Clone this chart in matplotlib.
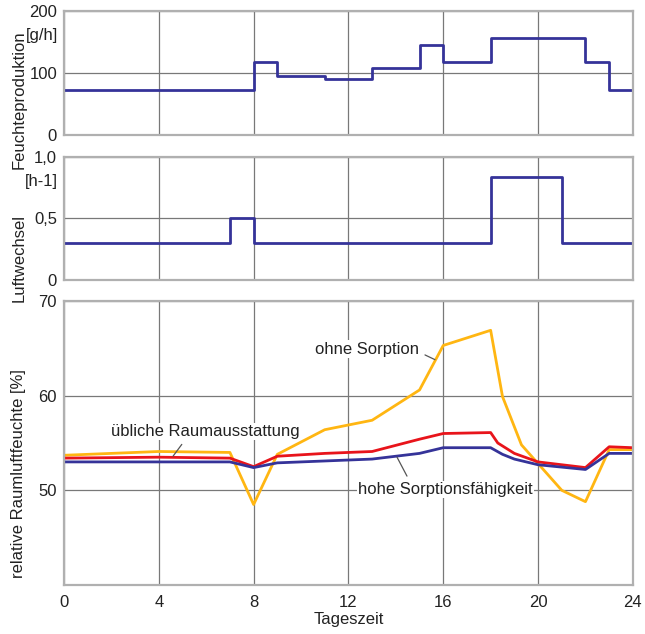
import matplotlib
matplotlib.use('Agg')
import matplotlib.pyplot as plt
from matplotlib.ticker import FuncFormatter

plt.rcParams['font.family'] = ['Liberation Sans', 'DejaVu Sans']

# Feuchteproduktion [g/h], stufenweise (Stunde -> Wert)
hours_feuchte = [0, 8, 9, 11, 13, 15, 16, 18, 22, 23, 24]
feuchte = [72, 118, 95, 90, 108, 146, 118, 156, 118, 72, 72]

# Luftwechsel [h-1]
hours_luft = [0, 7, 8, 18, 21, 24]
luftwechsel = [0.3, 0.5, 0.3, 0.84, 0.3, 0.3]

# relative Raumluftfeuchte [%]
hours_ohne = [0, 4, 7, 8, 9, 11, 13, 15, 16, 18, 18.5, 19.3, 21, 22, 23, 24]
rh_ohne = [53.7, 54.1, 54.0, 48.5, 53.8, 56.4, 57.4, 60.6, 65.3, 66.9, 59.9, 54.8, 50.0, 48.8, 54.3, 54.3]

hours_ueblich = [0, 4, 7, 8, 9, 11, 13, 15, 16, 18, 18.3, 19, 20, 22, 23, 24]
rh_ueblich = [53.4, 53.5, 53.4, 52.5, 53.6, 53.9, 54.1, 55.4, 56.0, 56.1, 55.0, 53.9, 53.0, 52.4, 54.6, 54.5]

hours_hoch = [0, 7, 8, 9, 11, 13, 15, 16, 18, 18.5, 19, 20, 22, 23, 24]
rh_hoch = [53.0, 53.0, 52.4, 52.9, 53.1, 53.3, 53.9, 54.5, 54.5, 53.8, 53.3, 52.7, 52.2, 53.9, 53.9]

x_ticks = [0, 4, 8, 12, 16, 20, 24]

blue = '#353399'
red = '#e8141b'
yellow = '#ffb612'
grid_col = '#787878'
spine_col = '#b0b0b0'
txt = '#222222'

fig = plt.figure(figsize=(6.45, 6.34), dpi=100)
ax1 = fig.add_axes([0.0992, 0.787, 0.882, 0.1956])
ax2 = fig.add_axes([0.0992, 0.5584, 0.882, 0.194])
ax3 = fig.add_axes([0.0992, 0.0773, 0.882, 0.448])

for ax in (ax1, ax2, ax3):
    ax.set_xlim(0, 24)
    ax.set_xticks(x_ticks)
    ax.grid(True, color=grid_col, linewidth=0.9)
    ax.set_axisbelow(True)
    ax.tick_params(length=0, labelsize=12, colors=txt, pad=5)
    for s in ax.spines.values():
        s.set_color(spine_col)
        s.set_linewidth(1.6)

ax1.step(hours_feuchte, feuchte, where='post', color=blue, lw=2)
ax1.set_ylim(0, 200)
ax1.set_yticks([0, 100, 200])
ax1.tick_params(labelbottom=False)
ax1.text(-0.01, 0.8, '[g/h]', transform=ax1.transAxes, ha='right', va='center',
         fontsize=12, color=txt)

ax2.step(hours_luft, luftwechsel, where='post', color=blue, lw=2)
ax2.set_ylim(0, 1.0)
ax2.set_yticks([0, 0.5, 1.0])
ax2.yaxis.set_major_formatter(FuncFormatter(lambda v, p: '0' if v == 0 else ('%.1f' % v).replace('.', ',')))
ax2.tick_params(labelbottom=False)
ax2.text(-0.01, 0.8, '[h-1]', transform=ax2.transAxes, ha='right', va='center',
         fontsize=12, color=txt)

ax3.plot(hours_ohne, rh_ohne, color=yellow, lw=2)
ax3.plot(hours_ueblich, rh_ueblich, color=red, lw=2)
ax3.plot(hours_hoch, rh_hoch, color=blue, lw=2)
ax3.set_ylim(40, 70)
ax3.set_yticks([50, 60, 70])
ax3.tick_params(axis='x', pad=7)
ax3.set_xlabel('Tageszeit', fontsize=12, color=txt, labelpad=2)

box = dict(facecolor='white', edgecolor='none', pad=1)
lead = dict(arrowstyle='-', color='#555555', lw=0.9, shrinkA=0, shrinkB=0)
ax3.text(12.8, 64.9, 'ohne Sorption', ha='center', va='center', fontsize=12, color=txt, bbox=box)
ax3.annotate('', xy=(15.65, 63.8), xytext=(15.23, 64.3), arrowprops=lead)
ax3.text(5.97, 56.2, 'übliche Raumausstattung', ha='center', va='center', fontsize=12, color=txt, bbox=box)
ax3.annotate('', xy=(4.6, 53.6), xytext=(4.97, 54.85), arrowprops=lead)
ax3.text(16.1, 50.1, 'hohe Sorptionsfähigkeit', ha='center', va='center', fontsize=12, color=txt, bbox=box)
ax3.annotate('', xy=(14.05, 53.5), xytext=(14.47, 51.5), arrowprops=lead)

fig.text(19 / 645, 1 - 100 / 634, 'Feuchteproduktion', rotation=90, ha='center', va='center',
         fontsize=12, color=txt)
fig.text(19 / 645, 1 - 258 / 634, 'Luftwechsel', rotation=90, ha='center', va='center',
         fontsize=12, color=txt)
fig.text(19 / 645, 1 - 474 / 634, 'relative Raumluftfeuchte [%]', rotation=90, ha='center', va='center',
         fontsize=12, color=txt)

fig.savefig('out.png', dpi=100)
